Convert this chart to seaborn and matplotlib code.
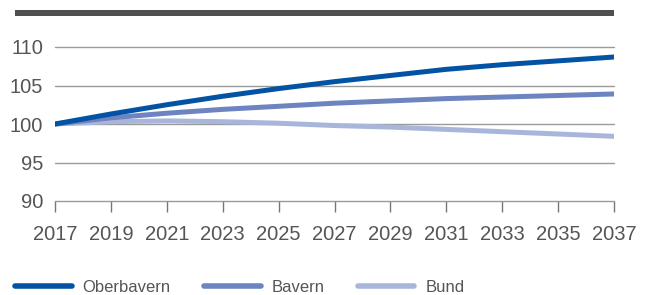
import matplotlib
matplotlib.use("Agg")
import matplotlib.pyplot as plt
import seaborn as sns
import pandas as pd
from matplotlib.patches import Rectangle
from matplotlib.lines import Line2D

years = [2017, 2019, 2021, 2023, 2025, 2027, 2029, 2031, 2033, 2035, 2037]
oberbayern = [100.0, 101.3, 102.5, 103.6, 104.6, 105.5, 106.3, 107.1, 107.7, 108.2, 108.7]
bayern = [100.0, 100.8, 101.4, 101.9, 102.3, 102.7, 103.0, 103.3, 103.5, 103.7, 103.9]
bund = [100.0, 100.3, 100.4, 100.3, 100.1, 99.8, 99.6, 99.3, 99.0, 98.7, 98.4]
series_names = ["Oberbavern", "Bavern", "Bund"]
colors = ["#0353a4", "#6d84c1", "#a9b6dc"]
yticks = [90, 95, 100, 105, 110]

df = pd.DataFrame({
    "year": years * 3,
    "value": oberbayern + bayern + bund,
    "series": [series_names[0]] * len(years) + [series_names[1]] * len(years) + [series_names[2]] * len(years),
})

sns.set_style("white")
plt.rcParams["font.family"] = ["Liberation Sans", "DejaVu Sans"]

fig = plt.figure(figsize=(6.53, 2.95), dpi=100)
W, H = 653, 295
ax = fig.add_axes([55 / W, 1 - 201 / H, (614 - 55) / W, (201 - 47) / H])

for y in yticks:
    ax.axhline(y, color="#9a9a9a", lw=1.0, zorder=1, clip_on=False)

# draw in reverse so dark line is on top
sns.lineplot(data=df, x="year", y="value", hue="series", hue_order=series_names[::-1],
             palette=colors[::-1], lw=3.6, ax=ax, legend=False, zorder=3)

ax.set_xlim(2017, 2037)
ax.set_ylim(90, 110)
ax.set_xticks(years)
ax.set_yticks(yticks)
ax.set_xlabel("")
ax.set_ylabel("")
for s in ax.spines.values():
    s.set_visible(False)
ax.tick_params(axis="x", bottom=True, direction="out", length=8, width=1, color="#777777",
               labelsize=14.5, labelcolor="#555555", pad=9)
ax.tick_params(axis="y", left=False, length=0, labelsize=14.5, labelcolor="#555555", pad=8.5)
ax.set_xticklabels([str(y) for y in years])
ax.set_yticklabels([str(y) for y in yticks])

# top dark bar
fig.add_artist(Rectangle((15 / W, 1 - 16 / H), (614 - 15) / W, 6 / H,
                         transform=fig.transFigure, color="#4f4f51", lw=0))

handles = [Line2D([], [], color=c, lw=4) for c in colors]
fig.legend(handles, series_names, loc="lower left", bbox_to_anchor=(0 / W, -15 / H),
           ncol=3, frameon=False, fontsize=12, handlelength=3.4, handletextpad=0.65,
           columnspacing=2.0, labelcolor="#555555")

fig.savefig("out.png", dpi=100)
